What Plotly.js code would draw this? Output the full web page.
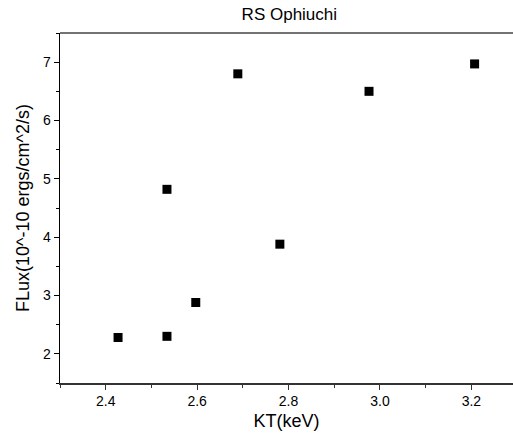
<!DOCTYPE html>
<html>
<head>
<meta charset="utf-8">
<script src="https://cdn.plot.ly/plotly-3.0.1.min.js"></script>
<style>html,body{margin:0;padding:0;background:#fff;overflow:hidden}</style>
</head>
<body>
<div id="chart" style="width:513px;height:439px"></div>
<script>
const kT = [2.427, 2.534, 2.534, 2.597, 2.689, 2.781, 2.976, 3.207];
const flux = [2.28, 2.30, 4.82, 2.88, 6.80, 3.88, 6.50, 6.97];
const chartTitle = 'RS Ophiuchi';
const xTitle = 'KT(keV)';
const yTitle = 'FLux(10^-10 ergs/cm^2/s)';

const font = 'Liberation Sans, Arial, sans-serif';
Plotly.newPlot('chart', [{
  x: kT, y: flux, type: 'scatter', mode: 'markers',
  marker: {symbol: 'square', size: 9, color: '#000'}
}], {
  width: 513, height: 439,
  margin: {l: 60, r: 0, t: 33, b: 56},
  paper_bgcolor: '#fff', plot_bgcolor: '#fff',
  showlegend: false,
  font: {family: font, color: '#000'},
  title: {text: chartTitle, font: {size: 17, family: font}, x: 0.564, xanchor: 'center', y: 0.967, yanchor: 'middle'},
  xaxis: {
    range: [2.3, 3.291], showgrid: false, zeroline: false,
    showline: true, linecolor: '#333', linewidth: 1.5,
    ticks: 'outside', ticklen: 5, tickwidth: 1, tickcolor: '#333',
    tickvals: [2.4, 2.6, 2.8, 3.0, 3.2], ticktext: ['2.4', '2.6', '2.8', '3.0', '3.2'],
    minor: {tickvals: [2.3, 2.5, 2.7, 2.9, 3.1], ticks: 'outside', ticklen: 3, tickcolor: '#333'},
    tickfont: {size: 14},
    title: {text: xTitle, font: {size: 18}, standoff: 6}
  },
  yaxis: {
    range: [1.5, 7.5], showgrid: false, zeroline: false,
    showline: true, linecolor: '#000', linewidth: 1.5,
    ticks: 'outside', ticklen: 5, tickwidth: 1, tickcolor: '#000',
    tickvals: [2, 3, 4, 5, 6, 7],
    minor: {tickvals: [1.5, 2.5, 3.5, 4.5, 5.5, 6.5, 7.5], ticks: 'outside', ticklen: 3, tickcolor: '#000'},
    tickfont: {size: 14},
    title: {text: yTitle, font: {size: 18}, standoff: 8}
  },
  shapes: [{type: 'line', xref: 'paper', yref: 'paper', x0: 0, x1: 1, y0: 1, y1: 1, line: {color: '#444', width: 1.5}}]
}, {displayModeBar: false, staticPlot: true});
</script>
</body>
</html>
